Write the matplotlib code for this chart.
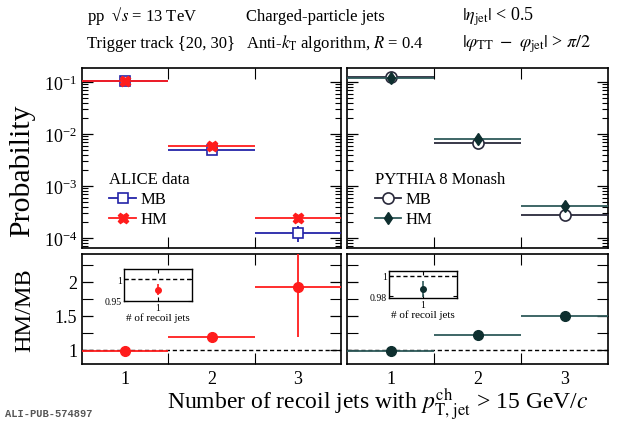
import matplotlib
matplotlib.use("Agg")
import matplotlib.pyplot as plt
from matplotlib.lines import Line2D
from matplotlib.ticker import FixedLocator, LogLocator, NullFormatter
import numpy as np

plt.rcParams['font.family'] = ['Liberation Serif', 'DejaVu Serif']
plt.rcParams['mathtext.fontset'] = 'stix'

# ---------------- data ----------------
bins = [1, 2, 3]
bin_halfwidth = [0.5, 0.5, 0.5]

alice_mb = [0.106, 0.0049, 1.25e-4]
alice_mb_err_lo = [0.002, 0.0002, 0.40e-4]
alice_mb_err_hi = [0.002, 0.0002, 0.45e-4]
alice_hm = [0.1035, 0.0058, 2.4e-4]
alice_hm_err = [0.002, 0.0002, 0.1e-4]

pythia_mb = [0.123, 0.0066, 2.75e-4]
pythia_hm = [0.1215, 0.0080, 4.1e-4]
pythia_hm_err = [0.001, 0.0002, 0.3e-4]

alice_ratio = [0.976, 1.19, 1.92]
alice_ratio_err = [0.013, 0.05, 0.73]
pythia_ratio = [0.987, 1.22, 1.50]
pythia_ratio_err = [0.008, 0.01, 0.015]

xtick_labels = ["1", "2", "3"]

# ---------------- colours ----------------
c_blue = "#2424a8"
c_red = "#ff1c1c"
c_pmb = "#2a2a3c"
c_phm_line = "#2f5a5a"
c_phm_mark = "#0e2f2f"

fig = plt.figure(figsize=(6.2, 4.27), dpi=100)
W, H = 620, 427


def ax_px(x0, y0, x1, y1):
    return fig.add_axes([x0 / W, 1 - y1 / H, (x1 - x0) / W, (y1 - y0) / H])


axTL = ax_px(82, 69, 341, 249)
axTR = ax_px(347, 69, 608, 249)
axBL = ax_px(82, 255, 341, 365)
axBR = ax_px(347, 255, 608, 365)


def style_common(ax):
    ax.set_xlim(0.5, 3.5)
    ax.tick_params(which='both', direction='in', top=True, right=True, labelsize=13)
    ax.tick_params(which='major', length=8, width=0.9)
    ax.tick_params(which='minor', length=4, width=0.8)
    for s in ax.spines.values():
        s.set_linewidth(1.2)
    ax.xaxis.set_major_locator(FixedLocator(bins))
    ax.xaxis.set_minor_locator(FixedLocator([1.5, 2.5]))
    ax.tick_params(axis='x', which='major', length=0)
    ax.tick_params(axis='x', which='minor', length=8)


for ax in (axTL, axTR):
    style_common(ax)
    ax.set_yscale('log')
    ax.set_ylim(10 ** -4.19, 10 ** -0.73)
    ax.yaxis.set_major_locator(LogLocator(base=10, numticks=10))
    ax.yaxis.set_minor_locator(LogLocator(base=10, subs=np.arange(2, 10), numticks=10))
    ax.yaxis.set_minor_formatter(NullFormatter())
    ax.set_xticklabels([])
axTR.set_yticklabels([])

for ax in (axBL, axBR):
    style_common(ax)
    ax.set_ylim(0.79, 2.41)
    ax.yaxis.set_major_locator(FixedLocator([1, 1.5, 2]))
    ax.yaxis.set_minor_locator(FixedLocator([1.25, 1.75, 2.25]))
    ax.tick_params(axis='y', which='minor', length=8)
    ax.set_xticks(bins)
    ax.set_xticklabels(xtick_labels, fontsize=13)
    ax.tick_params(axis='x', which='major', pad=4)
    ax.axhline(1.0, color='black', ls=(0, (3, 2)), lw=1.0, zorder=1)
axBL.set_yticklabels(["1", "1.5", "2"], fontsize=13)
axBR.set_yticklabels([])

leg_kw = dict(frameon=False, fontsize=12, title_fontsize=12, handlelength=1.6,
              handletextpad=0.25, labelspacing=0.25, alignment='left', borderpad=0.25,
              borderaxespad=0, loc='upper left')

# ---------------- top left: ALICE ----------------
axTL.errorbar(bins, alice_mb, xerr=bin_halfwidth, yerr=[alice_mb_err_lo, alice_mb_err_hi],
              fmt='s', mfc='white', mec=c_blue, color=c_blue, ms=7, mew=1.2, lw=1.3,
              capsize=0, zorder=3)
axTL.errorbar(bins, alice_hm, xerr=bin_halfwidth, yerr=alice_hm_err,
              fmt='X', color=c_red, mfc=c_red, mec=c_red, ms=7.5, lw=1.3, capsize=0, zorder=4)

h_mb = Line2D([], [], color=c_blue, marker='s', mfc='white', mec=c_blue, ms=7, mew=1.2, lw=1.3)
h_hm = Line2D([], [], color=c_red, marker='X', ms=7.5, lw=1.3)
axTL.legend([h_mb, h_hm], ["MB", "HM"], title="ALICE data",
            bbox_to_anchor=(0.09, 0.45), **leg_kw)

# ---------------- top right: PYTHIA ----------------
axTR.errorbar(bins, pythia_mb, xerr=bin_halfwidth, fmt='o', mfc='white', mec=c_pmb,
              color=c_pmb, ms=8, mew=1.2, lw=1.3, capsize=0, zorder=3)
axTR.errorbar(bins, pythia_hm, xerr=bin_halfwidth, yerr=pythia_hm_err, fmt='d',
              mfc=c_phm_mark, mec=c_phm_mark, color=c_phm_line, ms=6, lw=1.3,
              capsize=0, zorder=4)
h_pmb = Line2D([], [], color=c_pmb, marker='o', mfc='white', mec=c_pmb, ms=8, mew=1.2, lw=1.3)
h_phm = Line2D([], [], color=c_phm_line, marker='d', mfc=c_phm_mark, mec=c_phm_mark, ms=6, lw=1.3)
axTR.legend([h_pmb, h_phm], ["MB", "HM"], title="PYTHIA 8 Monash",
            bbox_to_anchor=(0.09, 0.45), **leg_kw)

# ---------------- ratios ----------------
axBL.errorbar(bins, alice_ratio, xerr=bin_halfwidth, yerr=alice_ratio_err, fmt='o',
              color=c_red, ms=7, lw=1.3, capsize=0, zorder=3)
axBR.errorbar(bins, pythia_ratio, xerr=bin_halfwidth, yerr=pythia_ratio_err, fmt='o',
              color=c_phm_line, mfc=c_phm_mark, mec=c_phm_mark, ms=7, lw=1.3, capsize=0, zorder=3)


# ---------------- insets ----------------
def make_inset(x0, y0, x1, y1, ylim, yticks, yticklabels, val, err, col, mcol):
    ia = ax_px(x0, y0, x1, y1)
    ia.set_xlim(0.5, 1.5)
    ia.set_ylim(*ylim)
    ia.axhline(1.0, color='black', ls=(0, (3, 2)), lw=1.0)
    ia.errorbar([bins[0]], [val], yerr=[err], fmt='o', color=col, mfc=mcol, mec=mcol,
                ms=4, lw=1.2, capsize=0)
    ia.set_xticks([bins[0]])
    ia.set_xticklabels([xtick_labels[0]], fontsize=7)
    ia.set_yticks(yticks)
    ia.set_yticklabels(yticklabels, fontsize=7)
    ia.tick_params(direction='in', top=True, right=True, length=3, pad=1.5)
    ia.set_xlabel("# of recoil jets", fontsize=8, labelpad=0)
    for s in ia.spines.values():
        s.set_linewidth(1.0)
    return ia


make_inset(124, 270, 192, 302, (0.95, 1.023), [0.95, 1.0], ["0.95", "1"],
           alice_ratio[0], alice_ratio_err[0], c_red, c_red)
make_inset(389, 272, 457, 299, (0.978, 1.005), [0.98, 1.0], ["0.98", "1"],
           pythia_ratio[0], pythia_ratio_err[0], c_phm_line, c_phm_mark)

# ---------------- labels / header ----------------
fig.text(22 / W, 1 - 171 / H, "Probability", rotation=90, fontsize=21.5, ha='center',
         va='center', rotation_mode='anchor')
fig.text(25 / W, 1 - 310 / H, "HM/MB", rotation=90, fontsize=17.5, ha='center',
         va='center', rotation_mode='anchor')
fig.text(378 / W, 1 - 410 / H,
         r"Number of recoil jets with $p_{\mathrm{T,\,jet}}^{\mathrm{ch}}$ > 15 GeV/$c$",
         fontsize=17, ha='center', va='baseline')

hy1 = 1 - 21 / H
hy2 = 1 - 48 / H
fs = 12
fig.text(87 / W, hy1, r"pp  √$s$ = 13 TeV", fontsize=fs, va='baseline')
fig.text(87 / W, hy2, "Trigger track {20, 30}", fontsize=fs, va='baseline')
fig.text(246 / W, hy1, "Charged-particle jets", fontsize=fs, va='baseline')
fig.text(246 / W, hy2, r"Anti-$k_{\mathrm{T}}$ algorithm, $R$ = 0.4", fontsize=fs, va='baseline')
fig.text(462 / W, hy1, r"$|\eta_{\mathrm{jet}}|$ < 0.5", fontsize=13, va='baseline')
fig.text(462 / W, hy2,
         r"$|\varphi_{\mathrm{TT}}\ -\ \varphi_{\mathrm{jet}}|$ > $\pi/2$",
         fontsize=13, va='baseline')

fig.text(5 / W, 1 - 414 / H, "ALI-PUB-574897", family='Liberation Mono', fontsize=7.5,
         color='#555555', weight='bold', va='center')

fig.savefig("out.png", dpi=100)
